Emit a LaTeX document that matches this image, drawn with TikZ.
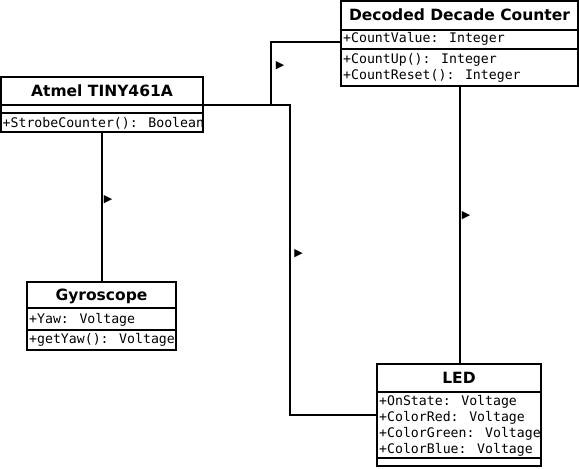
\documentclass[tikz,border=0pt]{standalone}
\usepackage{fontspec}
\newfontfamily\ttlfam{DejaVu Sans}
\newfontfamily\monofam{DejaVu Sans Mono}
\newfontfamily\symfam{DejaVu Sans}
\tikzset{
  compart/.style={draw, line width=2pt, inner sep=0pt, outer sep=0pt, anchor=north west},
  ttl/.style={compart, font=\ttlfam\bfseries\fontsize{15.5pt}{18pt}\selectfont, text height=11.3pt, text depth=0pt},
  member/.style={anchor=base west, inner sep=0pt, font=\monofam\fontsize{13.2pt}{16pt}\selectfont},
  conn/.style={line width=2pt},
  dirmark/.style={inner sep=0pt, font=\symfam\fontsize{11pt}{11pt}\selectfont}
}
\begin{document}
\begin{tikzpicture}[x=1pt,y=-1pt]
\fill[white] (0,0) rectangle (579,469);
\useasboundingbox (0,0) rectangle (579,469);

% Atmel TINY461A
\node[ttl, minimum width=202pt, minimum height=28pt] (atmelT) at (1,77) {Atmel TINY461A};
\node[compart, minimum width=202pt, minimum height=8pt] (atmelA) at (1,105) {};
\node[compart, minimum width=202pt, minimum height=19pt] (atmelO) at (1,113) {};
\node[member] (atmelO1) at (2.5,127.5) {+StrobeCounter(): Boolean};

% Decoded Decade Counter
\node[ttl, minimum width=237pt, minimum height=28.5pt] (decT) at (341,1) {Decoded Decade Counter};
\node[compart, minimum width=237pt, minimum height=19pt] (decA) at (341,29.5) {};
\node[compart, minimum width=237pt, minimum height=37.5pt] (decO) at (341,48.5) {};
\node[member] (decA1) at (343,42.5) {+CountValue: Integer};
\node[member] (decO1) at (343,63) {+CountUp(): Integer};
\node[member] (decO2) at (343,79) {+CountReset(): Integer};

% Gyroscope
\node[ttl, minimum width=149pt, minimum height=26pt] (gyroT) at (27,282) {Gyroscope};
\node[compart, minimum width=149pt, minimum height=22pt] (gyroA) at (27,308) {};
\node[compart, minimum width=149pt, minimum height=20pt] (gyroO) at (27,330) {};
\node[member] (gyroA1) at (29,323) {+Yaw: Voltage};
\node[member] (gyroO1) at (29,343) {+getYaw(): Voltage};

% LED
\node[ttl, minimum width=164pt, minimum height=28pt] (ledT) at (377,364) {LED};
\node[compart, minimum width=164pt, minimum height=66pt] (ledA) at (377,392) {};
\node[compart, minimum width=164pt, minimum height=8pt] (ledO) at (377,458) {};
\node[member] (ledA1) at (379,405.5) {+OnState: Voltage};
\node[member] (ledA2) at (379,421.5) {+ColorRed: Voltage};
\node[member] (ledA3) at (379,437.5) {+ColorGreen: Voltage};
\node[member] (ledA4) at (379,453.5) {+ColorBlue: Voltage};

% connectors
\coordinate (kA) at (271,42);
\coordinate (kB) at (290,415);
\draw[conn] (atmelT.south east) -| (kA) -- (kA -| decA.west);
\draw[conn] (atmelT.south east) -| (kB) -- (kB -| ledA.west);
\draw[conn] (atmelO.south) -- (atmelO.south |- gyroT.north);
\draw[conn] (decO.south) -- (decO.south |- ledT.north);

% direction marks
\node[dirmark] (mA) at (280,66) {▶};
\node[dirmark] (mB) at (298.5,254) {▶};
\node[dirmark] (mC) at (108,200) {▶};
\node[dirmark] (mD) at (466,216) {▶};
\end{tikzpicture}
\end{document}
